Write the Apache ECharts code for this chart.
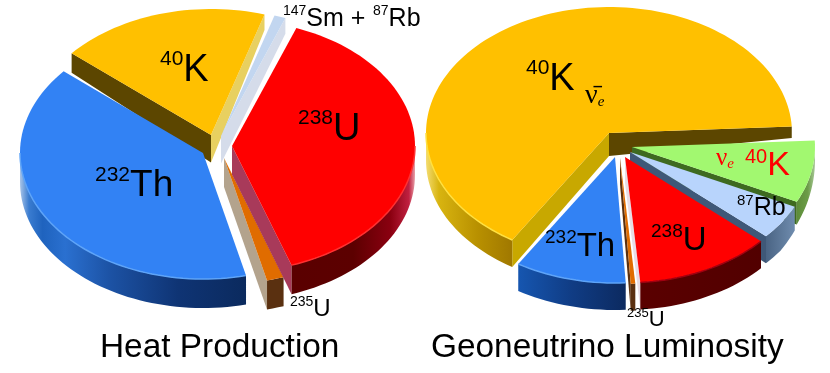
<!DOCTYPE html>
<html>
<head>
<meta charset="utf-8">
<style>
  html, body { margin: 0; padding: 0; background: #fff; }
  #chart { width: 830px; height: 373px; }
</style>
</head>
<body>
<div id="chart"></div>
<script src="https://cdn.jsdelivr.net/npm/echarts@6/dist/echarts.min.js"></script>
<script>
// share of each isotope, clockwise, in percent
const heatSlices = ['147Sm + 87Rb', '238U', '235U', '232Th', '40K'];
const heatValues = [1, 39, 1.5, 40, 18.5];
const lumiSlices = ['nu 40K', '87Rb', '238U', '235U', '232Th', 'antinu 40K'];
const lumiValues = [8, 4.5, 12, 0.4, 9.8, 65.3];
const titles = ['Heat Production', 'Geoneutrino Luminosity'];

const RX = 183;
const RY = 126;

// layout and look, one entry per slice
const heatPie = {
  values: heatValues,
  startAngle: 17,
  drawOrder: [4, 0, 2, 1, 3],
  apex: [[221, 136], [232, 146], [224, 158], [203, 153], [211, 135]],
  depth: (x, y) => Math.min(29, 14 + 0.1 * y),
  looks: [
    { top: '#c2d6f0', end: '#d5dcea', rim: [[0, '#d5dcea'], [1, '#d5dcea']] },
    { top: '#ff0000', end: '#a83a5a', rim: [[0, '#5a0000'], [0.5, '#5c0000'], [0.8, '#8a0010'], [0.95, '#c02040'], [1, '#e8a0a8']], lip: '#ff3030' },
    { top: '#e06c00', end: '#b3a38d', rim: [[0, '#5a3010'], [1, '#5a3010']] },
    { top: '#3282f4', rim: [[0, '#a8c4e8'], [0.04, '#3a7cd0'], [0.1, '#1f63be'], [0.2, '#2a70d0'], [0.4, '#1c52a4'], [0.7, '#0f3474'], [1, '#0b2a5e']], lip: '#5ea4f8' },
    { top: '#ffc000', start: '#5c4600', end: '#e8d060', rim: [[0, '#5c4600'], [1, '#5c4600']] },
  ],
};

const lumiPie = {
  values: lumiValues,
  startAngle: 87,
  drawOrder: [5, 0, 1, 3, 2, 4],
  apex: [[632, 147], [630, 152], [625, 157], [620, 158], [615, 157], [609, 133]],
  depth: (x, y) => Math.min(27, 12 + 0.15 * (y - 127) + 0.056 * (788 - x)),
  looks: [
    { top: '#a2f870', end: '#3e6a20', rim: [[0, '#5c8c38'], [0.6, '#6c9c48'], [1, '#a8c898']] },
    { top: '#b8d4fc', end: '#3f5878', rim: [[0, '#4a6484'], [1, '#6f8cae']] },
    { top: '#ff0000', end: '#e8dce4', rim: [[0, '#5a0000'], [1, '#520000']], lip: '#a00010' },
    { top: '#e06c00', end: '#5a3010', rim: [[0, '#5a3010'], [1, '#5a3010']] },
    { top: '#3282f4', rim: [[0, '#1656b0'], [0.5, '#103c84'], [1, '#0c2a60']], lip: '#5ea4f8' },
    { top: '#ffc000', start: '#c8a800', end: '#5c4600', rim: [[0, '#f4dc70'], [0.15, '#d8b410'], [0.6, '#b89000'], [1, '#a07800']], lip: '#ffe040' },
  ],
};

function point(apex, deg) {
  const a = deg * Math.PI / 180;
  return [apex[0] + RX * Math.sin(a), apex[1] - RY * Math.cos(a)];
}

function arc(apex, from, to) {
  const pts = [];
  const n = Math.max(2, Math.ceil((to - from) / 2));
  for (let i = 0; i <= n; i++) {
    pts.push(point(apex, from + (to - from) * i / n));
  }
  return pts;
}

function drop(depth, pts) {
  return pts.map((p) => [p[0], p[1] + depth(p[0], p[1])]);
}

function polygon(points, fill) {
  return { type: 'polygon', shape: { points }, style: { fill } };
}

// a cut face shows only when its outward normal points towards the viewer
function cutFace(pie, apex, deg, normalDeg, fill, out) {
  if (!fill || Math.cos(normalDeg * Math.PI / 180) >= 0) {
    return;
  }
  const edge = [apex, point(apex, deg)];
  out.push(polygon(edge.concat(drop(pie.depth, edge).reverse()), fill));
}

function renderSlice(pie, params, api) {
  const index = api.value(1);
  const total = pie.values.reduce((a, b) => a + b, 0);
  let a0 = pie.startAngle;
  for (let i = 0; i < index; i++) {
    a0 += pie.values[i] / total * 360;
  }
  const a1 = a0 + api.value(0) / total * 360;
  const apex = pie.apex[index];
  const look = pie.looks[index];
  const children = [];

  cutFace(pie, apex, a0, a0 - 90, look.start, children);
  cutFace(pie, apex, a1, a1 + 90, look.end, children);

  const rimFrom = Math.max(a0, 90);
  const rimTo = Math.min(a1, 270);
  if (rimTo > rimFrom) {
    const edge = arc(apex, rimFrom, rimTo);
    const stops = look.rim.map(([offset, color]) => ({ offset, color }));
    // arc runs right to left here, the stops are listed left to right
    children.push(polygon(edge.concat(drop(pie.depth, edge).reverse()),
      new echarts.graphic.LinearGradient(0, 0, 1, 0, stops)));
  }

  children.push(polygon([apex].concat(arc(apex, a0, a1)), look.top));

  if (look.lip && rimTo > rimFrom) {
    children.push({
      type: 'polyline',
      shape: { points: arc(apex, rimFrom, rimTo) },
      style: { stroke: look.lip, lineWidth: 1.5, fill: null },
    });
  }
  return { type: 'group', children };
}

function pieSeries(pie) {
  return {
    type: 'custom',
    coordinateSystem: 'none',
    data: pie.drawOrder.map((i) => [pie.values[i], i]),
    renderItem: (params, api) => renderSlice(pie, params, api),
    silent: true,
  };
}

// isotope labels: [sup, main, supSize, mainSize, x, y]
const heatLabels = [
  ['40', 'K', 21, 38, 160, 71],
  ['238', 'U', 21, 38, 298, 130],
  ['232', 'Th', 21, 37, 95, 186],
  ['147', 'Sm + ', 14, 25, 283, 19],
  ['87', 'Rb', 14, 25, 373, 19],
  ['235', 'U', 14, 24, 290, 309],
];
const lumiLabels = [
  ['40', 'K', 21, 38, 526, 80],
  ['232', 'Th', 19, 33, 545, 247],
  ['238', 'U', 19, 33, 651, 241],
  ['87', 'Rb', 15, 25, 737, 208],
  ['235', 'U', 13, 22, 627, 320],
];
const nuColor = '#ff0000';

const rich = {};
function sized(name, size, extra) {
  rich[name + size] = Object.assign({ fontSize: size, fontFamily: 'Liberation Sans', lineHeight: size * 1.15 }, extra);
  return name + size;
}

function isotope(label, color) {
  const [sup, main, supSize, mainSize, x, y] = label;
  const supKey = sized('s', supSize, { verticalAlign: 'top', fill: color });
  const mainKey = sized('m' + (color === '#000' ? '' : 'r'), mainSize, { fill: color });
  return {
    type: 'text',
    x,
    y,
    z: 100,
    silent: true,
    style: { text: `{${supKey}|${sup}}{${mainKey}|${main}}`, rich, verticalAlign: 'middle', fill: color },
  };
}

rich.nu = { fontSize: 28, fontFamily: 'Liberation Serif', fill: '#000', lineHeight: 28 };
rich.e = { fontSize: 15, fontFamily: 'Liberation Serif', fontStyle: 'italic', fill: '#000', verticalAlign: 'bottom', lineHeight: 28 };
rich.nuRed = Object.assign({}, rich.nu, { fontSize: 25, fill: nuColor });
rich.eRed = Object.assign({}, rich.e, { fill: nuColor });
rich.s19red = { fontSize: 20, fontFamily: 'Liberation Sans', fill: nuColor, verticalAlign: 'top', lineHeight: 38 };
rich.k33red = { fontSize: 34, fontFamily: 'Liberation Sans', fill: nuColor, lineHeight: 38 };

const graphicTexts = heatLabels.concat(lumiLabels).map((l) => isotope(l, '#000'));
graphicTexts.push({
  type: 'text', x: 585, y: 96, z: 100, silent: true,
  style: { text: '{nu|\u03BD\u0304}{e|e}', rich, verticalAlign: 'middle' },
});
graphicTexts.push({
  type: 'text', x: 716, y: 158, z: 100, silent: true,
  style: { text: '{nuRed|\u03BD}{eRed|e}', rich, verticalAlign: 'middle' },
});
graphicTexts.push({
  type: 'text', x: 745, y: 166, z: 100, silent: true,
  style: { text: '{s19red|40}{k33red|K}', rich, verticalAlign: 'middle' },
});

const titleStyle = { fontFamily: 'Liberation Sans', fontSize: 33.4, fontWeight: 'normal', color: '#000' };

const chart = echarts.init(document.getElementById('chart'), null, { renderer: 'canvas' });
chart.setOption({
  animation: false,
  backgroundColor: '#fff',
  title: [
    { text: titles[0], left: 100, top: 331, textStyle: titleStyle, padding: 0 },
    { text: titles[1], left: 431, top: 331, textStyle: titleStyle, padding: 0 },
  ],
  series: [pieSeries(heatPie), pieSeries(lumiPie)],
  graphic: { elements: graphicTexts },
});
</script>
</body>
</html>
